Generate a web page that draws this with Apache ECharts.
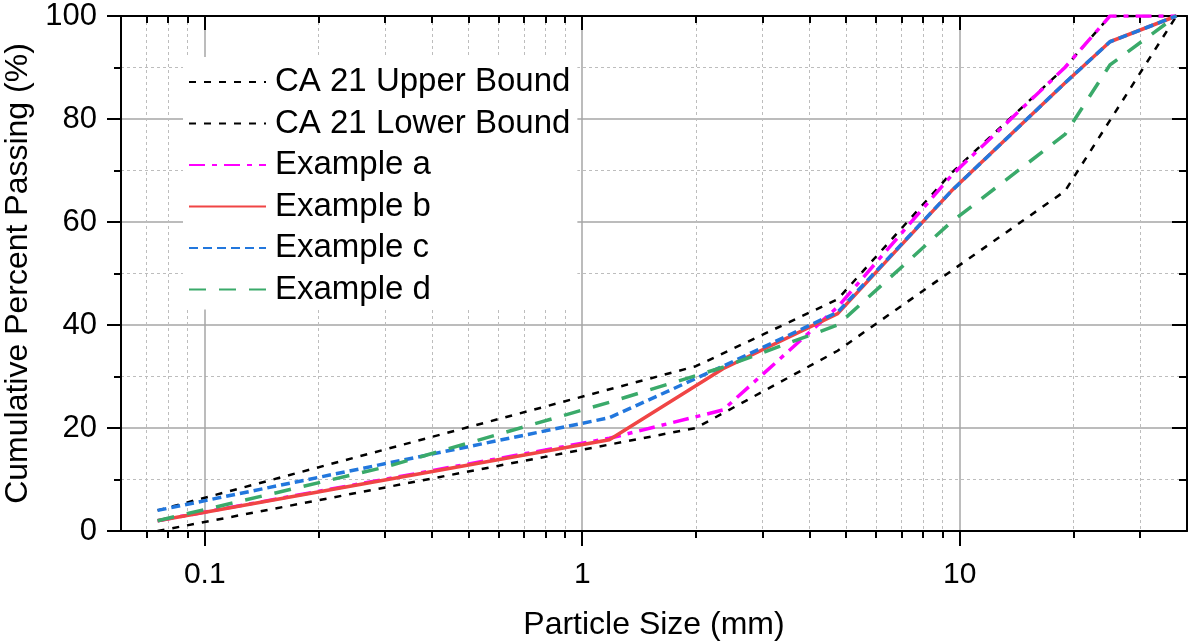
<!DOCTYPE html>
<html>
<head>
<meta charset="utf-8">
<script src="https://cdn.jsdelivr.net/npm/echarts@6/dist/echarts.min.js"></script>
<style>
html,body{margin:0;padding:0;background:#fff;}
#chart{width:1190px;height:643px;}
</style>
</head>
<body>
<div id="chart"></div>
<script>
// sieve size (mm) / percent passing
var upperSize = [0.075, 2.0, 4.75, 9.5, 19, 25, 37.5];
var upperPass = [4, 32, 45, 69.5, 90, 100, 100];
var lowerSize = [0.075, 2.0, 4.75, 19, 37.5];
var lowerPass = [0, 20, 35, 66, 100];
var aSize = [0.075, 1.18, 2.36, 4.75, 9.5, 19, 25, 37.5];
var aPass = [2, 18, 23.5, 43.5, 69, 90, 100, 100];
var bSize = [0.075, 1.18, 2.36, 4.75, 9.5, 19, 25, 37.5];
var bPass = [2, 17.7, 31.5, 42.2, 66, 87, 95, 100];
var cSize = [0.075, 1.18, 2.36, 4.75, 9.5, 19, 25, 37.5];
var cPass = [4, 22, 32, 42.5, 66, 87, 95, 100];
var dSize = [0.075, 0.3, 1.18, 2.36, 4.75, 9.5, 19, 25, 37.5];
var dPass = [2, 12.4, 25, 31.8, 40, 60, 77, 90.5, 100];

// axis ticks
var majorX = [0.1, 1, 10];
var minorX = [0.07, 0.08, 0.09, 0.2, 0.3, 0.4, 0.5, 0.6, 0.7, 0.8, 0.9,
              2, 3, 4, 5, 6, 7, 8, 9, 20, 30];

var FONT = 'Liberation Sans, Arial, sans-serif';

function pairs(xs, ys){
	var out = [];
	for(var i=0;i<xs.length;i++){
		out.push([xs[i], ys[i]]);
	}
	return out;
}

function lineSeries(name, xs, ys, color, width, dash){
	return {
		name: name,
		type: 'line',
		xAxisIndex: 0,
		yAxisIndex: 0,
		symbol: 'none',
		showSymbol: false,
		data: pairs(xs, ys),
		itemStyle: {color: color},
		lineStyle: {color: color, width: width, type: dash}
	};
}

var axisBlack = {show: true, lineStyle: {color: '#000', width: 2}};
var majorGrid = {show: true, lineStyle: {color: '#a6a6a6', width: 1.5}};
var minorGrid = {show: true, lineStyle: {color: '#bdbdbd', width: 1, type: [3, 3]}};

var myChart = echarts.init(document.getElementById('chart'));
var option = {
	backgroundColor: '#fff',
	animation: false,
	textStyle: {fontFamily: FONT},
	grid: {left: 121, right: 3, top: 16, bottom: 112, containLabel: false, outerBoundsMode: 'none'},
	legend: {
		orient: 'vertical',
		left: 183,
		top: 57,
		padding: [8, 7, 3, 5],
		backgroundColor: '#fff',
		itemWidth: 77,
		itemHeight: 14,
		itemGap: 7.5,
		selectedMode: false,
		itemStyle: {opacity: 0},
		textStyle: {fontFamily: FONT, fontSize: 33, lineHeight: 34, color: '#000', padding: [0, 0, 0, 4]},
		data: ['CA 21 Upper Bound', 'CA 21 Lower Bound', 'Example a', 'Example b', 'Example c', 'Example d']
	},
	xAxis: [
		{
			type: 'log', logBase: 10, min: 0.06, max: 40, position: 'bottom',
			axisLine: axisBlack,
			axisTick: {show: true, customValues: majorX, length: 15, lineStyle: {color: '#000', width: 2}},
			axisLabel: {
				show: true, customValues: majorX, margin: 29, color: '#000',
				fontFamily: FONT, fontSize: 30,
				formatter: function(v){ return String(+(+v).toPrecision(6)); }
			},
			splitLine: majorGrid,
			name: 'Particle Size (mm)', nameLocation: 'middle', nameGap: 78,
			nameTextStyle: {fontFamily: FONT, fontSize: 32, color: '#000'}
		},
		{
			type: 'log', logBase: 10, min: 0.06, max: 40, position: 'bottom',
			axisLine: {show: false},
			axisTick: {show: true, customValues: minorX, length: 7, lineStyle: {color: '#000', width: 2}},
			axisLabel: {show: false},
			splitLine: minorGrid
		},
		{
			type: 'log', logBase: 10, min: 0.06, max: 40, position: 'top',
			axisLine: axisBlack,
			axisTick: {show: true, inside: true, customValues: majorX, length: 14, lineStyle: {color: '#000', width: 2}},
			axisLabel: {show: false},
			splitLine: {show: false}
		},
		{
			type: 'log', logBase: 10, min: 0.06, max: 40, position: 'top',
			axisLine: {show: false},
			axisTick: {show: true, inside: true, customValues: minorX, length: 7, lineStyle: {color: '#000', width: 2}},
			axisLabel: {show: false},
			splitLine: {show: false}
		}
	],
	yAxis: [
		{
			type: 'value', min: 0, max: 100, interval: 20, position: 'left',
			axisLine: axisBlack,
			axisTick: {show: true, length: 14, lineStyle: {color: '#000', width: 2}},
			minorTick: {show: true, splitNumber: 2, length: 7, lineStyle: {color: '#000', width: 2}},
			axisLabel: {margin: 24, color: '#000', fontFamily: FONT, fontSize: 31},
			splitLine: majorGrid,
			minorSplitLine: minorGrid,
			name: 'Cumulative Percent Passing (%)', nameLocation: 'middle', nameGap: 85,
			nameTextStyle: {fontFamily: FONT, fontSize: 32, color: '#000'}
		},
		{
			type: 'value', min: 0, max: 100, interval: 20, position: 'right',
			axisLine: axisBlack,
			axisTick: {show: true, inside: true, length: 15, lineStyle: {color: '#000', width: 2}},
			minorTick: {show: true, splitNumber: 2, length: 8, lineStyle: {color: '#000', width: 2}},
			axisLabel: {show: false},
			splitLine: {show: false}
		}
	],
	series: [
		lineSeries('CA 21 Upper Bound', upperSize, upperPass, '#000000', 2.5, [7, 8]),
		lineSeries('CA 21 Lower Bound', lowerSize, lowerPass, '#000000', 2.5, [7, 8]),
		lineSeries('Example a', aSize, aPass, '#ff00ff', 3.5, [16, 7, 5, 7]),
		lineSeries('Example b', bSize, bPass, '#f04545', 3.5, 'solid'),
		lineSeries('Example c', cSize, cPass, '#2277dd', 3.5, [9, 5]),
		lineSeries('Example d', dSize, dPass, '#3aaa6a', 3.5, [17, 13])
	]
};
myChart.setOption(option);
</script>
</body>
</html>
